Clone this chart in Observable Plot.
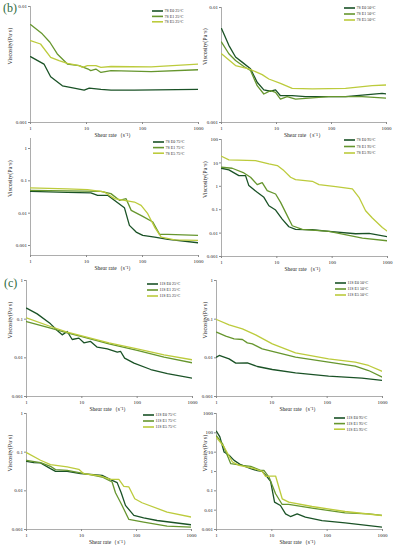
<!DOCTYPE html>
<html>
<head>
<meta charset="utf-8">
<script src="https://cdn.jsdelivr.net/npm/d3@7"></script>
<script src="https://cdn.jsdelivr.net/npm/@observablehq/plot@0.6"></script>
<style>
  html, body { margin: 0; padding: 0; background: #fff; }
  #fig { position: relative; width: 395px; height: 550px; overflow: hidden; font-family: "Liberation Serif", "Times New Roman", serif; }
  .panel { position: absolute; }
  .legend { position: absolute; overflow: visible; }
  .tag { position: absolute; font-size: 12px; color: #2d6a3c; font-family: "Liberation Serif", serif; }
</style>
</head>
<body>
<div id="fig"></div>
<script>
// ---------- data: [shear rate (1/s), viscosity (Pa·s)] ----------
// 7S, 25 °C
const s7_25_E0 = [[1,0.0037],[1.74,0.00319],[2.29,0.00248],[3.71,0.00207],[6.0,0.00198],[9.08,0.0019],[11.2,0.00198],[18.1,0.00193],[27.4,0.0019],[71.7,0.0019],[1000,0.00193]];
const s7_25_E1 = [[1,0.00698],[1.62,0.00581],[2.22,0.00492],[3.01,0.0039],[4.56,0.00319],[7.4,0.00309],[10.7,0.00289],[11.9,0.0028],[14.7,0.00289],[18.1,0.0027],[27.4,0.0028],[143,0.00274],[1000,0.00285]];
const s7_25_E5 = [[1,0.00508],[1.51,0.00475],[2.29,0.00365],[3.23,0.00341],[4.56,0.00323],[7.4,0.00309],[8.5,0.00299],[10.4,0.00309],[14.7,0.00309],[18.1,0.00299],[27.4,0.00304],[143,0.00302],[1000,0.00319]];
// 7S, 50 °C
const s7_50_E0 = [[1,0.00655],[1.36,0.00469],[1.8,0.00371],[2.37,0.00335],[3.37,0.00293],[4.45,0.00224],[5.88,0.00192],[7.8,0.00187],[9.6,0.00192],[11.8,0.00171],[19.3,0.00171],[33.6,0.00168],[180,0.00168],[830,0.00179],[1000,0.00177]];
const s7_50_E1 = [[1,0.00501],[1.36,0.00396],[1.8,0.00346],[2.55,0.00307],[3.37,0.00283],[4.45,0.00209],[5.88,0.00177],[7.8,0.00189],[9.6,0.00183],[11.8,0.0016],[15.6,0.00168],[22.2,0.0016],[89,0.00168],[360,0.00168],[1000,0.00163]];
const s7_50_E5 = [[1,0.00397],[1.8,0.00313],[3.14,0.00293],[5.49,0.00261],[7.25,0.00239],[11.8,0.00219],[19.3,0.00198],[44.6,0.00196],[180,0.00198],[550,0.00209],[1000,0.00212]];
// 7S, 75 °C
const s7_75_E0 = [[1,0.0474],[4.55,0.0442],[11.96,0.0422],[15.8,0.0357],[23.8,0.0357],[31.4,0.025],[47.5,0.0148],[58.4,0.00419],[77,0.0026],[101,0.00205],[165,0.00182],[285,0.00154],[1000,0.00121]];
const s7_75_E1 = [[1,0.0509],[4.55,0.0486],[18.1,0.0475],[27.3,0.0402],[38.7,0.025],[50.9,0.0281],[62.9,0.0122],[101,0.00796],[153,0.00531],[202,0.0022],[285,0.0022],[1000,0.00205]];
const s7_75_E5 = [[1,0.0602],[4.55,0.0561],[10.4,0.0535],[20.8,0.0453],[31.4,0.0281],[47.5,0.025],[71.8,0.0221],[94.5,0.0175],[124,0.00962],[164,0.00371],[216,0.00182],[375,0.0015],[1000,0.00143]];
// 7S, 95 °C
const s7_95_E0 = [[1,5.91],[1.36,5.01],[2.06,2.87],[2.72,2.87],[3.12,1.07],[4.42,0.553],[5.84,0.338],[7.19,0.148],[9.5,0.0968],[12.5,0.0398],[16.5,0.0187],[21.8,0.0144],[43.7,0.0139],[87.6,0.0118],[265,0.00936],[465,0.00966],[1000,0.00697]];
const s7_95_E1 = [[1,6.52],[1.56,5.91],[2.54,3.73],[3.35,2.43],[4.42,1.18],[5.44,1.44],[6.7,0.652],[9.5,0.469],[11.7,0.206],[14.4,0.0769],[19,0.0206],[28.9,0.0144],[87.6,0.0118],[352,0.00611],[1000,0.00469]];
const s7_95_E5 = [[1,19.3],[1.36,13.4],[4.12,12.6],[7.19,9.06],[10.2,7.69],[13.4,4.69],[17.7,2.43],[21.8,1.93],[43.7,1.64],[57.8,1.18],[116,0.968],[232,0.769],[305,0.338],[402,0.0906],[532,0.044],[806,0.0175],[1000,0.0118]];
// 11S, 25 °C
const s11_25_E0 = [[1,0.193],[1.56,0.137],[2.72,0.0757],[3.59,0.0509],[4.42,0.0393],[5.44,0.048],[6.7,0.0298],[8.85,0.0323],[10.9,0.0245],[14.4,0.0265],[19,0.0189],[28.9,0.0171],[43.7,0.014],[50.3,0.0146],[59.3,0.0098],[87.6,0.00727],[176,0.00499],[352,0.00393],[1000,0.00298]];
const s11_25_E1 = [[1,0.087],[2.72,0.0585],[5.44,0.0443],[10,0.0356],[30.9,0.023],[100,0.0155],[306,0.0104],[1000,0.00743]];
const s11_25_E5 = [[1,0.108],[2.72,0.0646],[5.44,0.0461],[10,0.0371],[30.9,0.0244],[100,0.0171],[306,0.012],[1000,0.00887]];
// 11S, 50 °C
const s11_50_E0 = [[1,0.0104],[1.12,0.0115],[1.69,0.00942],[2.23,0.00728],[3.61,0.00742],[5.47,0.00597],[10.2,0.00499],[26.8,0.00409],[106,0.00336],[424,0.00298],[1000,0.00259]];
const s11_50_E1 = [[1,0.0461],[1.47,0.0363],[2.08,0.031],[2.94,0.0298],[3.61,0.0244],[4.44,0.023],[6.71,0.0171],[10.2,0.0146],[26.8,0.0104],[106,0.00773],[321,0.00609],[560,0.0047],[1000,0.00316]];
const s11_50_E5 = [[1,0.098],[1.69,0.0714],[2.94,0.0562],[5.1,0.0393],[10.2,0.023],[26.8,0.0135],[106,0.00942],[321,0.00773],[560,0.00634],[1000,0.00443]];
// 11S, 75 °C
const s11_75_E0 = [[1,0.0581],[1.36,0.0537],[1.8,0.0526],[2.73,0.0375],[3.37,0.032],[5.49,0.032],[9.6,0.0278],[16.7,0.0262],[23.7,0.0252],[36,0.0187],[44.5,0.0163],[52.7,0.00895],[63,0.0042],[89.5,0.00231],[135,0.00201],[237,0.00171],[1000,0.00132]];
const s11_75_E1 = [[1,0.0617],[1.8,0.0537],[2.73,0.0431],[3.37,0.0353],[5.49,0.034],[9.6,0.029],[16.7,0.0252],[23.7,0.0228],[36,0.0169],[41.5,0.00895],[52.7,0.00464],[72.7,0.00182],[135,0.00155],[360,0.00122],[1000,0.00115]];
const s11_75_E5 = [[1,0.0975],[1.8,0.0617],[2.73,0.0476],[5.49,0.0414],[8.93,0.036],[11,0.0278],[22.2,0.0242],[33.7,0.0198],[47.8,0.0198],[58.8,0.013],[72.7,0.0126],[93,0.00625],[126,0.00492],[360,0.00282],[1000,0.00209]];
// 11S, 95 °C
const s11_95_E0 = [[1,121],[1.15,61.5],[1.37,10.2],[1.69,6.87],[2.08,3.78],[2.74,2.25],[4.15,1.4],[5.47,1.1],[6.71,1.02],[8.27,0.516],[9.5,0.308],[11.2,0.026],[14.3,0.0175],[17.7,0.00645],[21.7,0.00469],[28.7,0.00645],[40.4,0.00433],[80.7,0.00291],[211,0.0022],[1000,0.00131]];
const s11_95_E1 = [[1,69.3],[1.28,27.7],[1.81,2.54],[2.94,2.08],[4.15,1.85],[6.27,1.15],[7.2,1.15],[8.87,0.516],[11.7,0.0705],[15.4,0.0197],[20.2,0.0197],[53.3,0.0127],[211,0.00727],[560,0.00645],[1000,0.00528]];
const s11_95_E5 = [[1,56.8],[1.37,18.6],[1.94,3.1],[2.56,2.08],[4.44,1.51],[6.71,1.02],[7.7,0.558],[9.5,0.576],[11.7,0.582],[15.4,0.0387],[20.2,0.026],[53.3,0.0155],[211,0.00853],[1000,0.00528]];

// ---------- labels ----------
const seriesCodes = ["E0", "E1", "E5"];
const seriesColors = ["#1a5226", "#66962e", "#bccb3c"];
const xTitle = "Shear rate（s⁻¹）";
const yTitle = "Viscosity(Pa·s)";
const xTicks = [1, 10, 100, 1000];

// ---------- layout ----------
const panels = [
  {p:"7S",  t:"25°C", data:[s7_25_E0, s7_25_E1, s7_25_E5],   left:0,   top:0,   w:200, h:140, xL:30,  xR:198, yT:6,   yB:122, yDom:[0.001, 0.01], lg:[152, 10.5, 5.4], tag:"(b)"},
  {p:"7S",  t:"50°C", data:[s7_50_E0, s7_50_E1, s7_50_E5],   left:195, top:0,   w:200, h:140, xL:221, xR:386, yT:7,   yB:122, yDom:[0.001, 0.01], lg:[344, 7.5, 6]},
  {p:"7S",  t:"75°C", data:[s7_75_E0, s7_75_E1, s7_75_E5],   left:0,   top:130, w:200, h:140, xL:30,  xR:198, yT:138, yB:255, yDom:[0.00049, 2.04], lg:[153, 142, 5.6]},
  {p:"7S",  t:"95°C", data:[s7_95_E0, s7_95_E1, s7_95_E5],   left:195, top:130, w:200, h:140, xL:221, xR:387, yT:139, yB:256, yDom:[0.001, 100], lg:[344, 140, 6.5]},
  {p:"11S", t:"25°C", data:[s11_25_E0, s11_25_E1, s11_25_E5], left:0,   top:265, w:200, h:145, xL:26,  xR:192, yT:280, yB:396, yDom:[0.001, 1], lg:[147, 284, 6], tag:"(c)"},
  {p:"11S", t:"50°C", data:[s11_50_E0, s11_50_E1, s11_50_E5], left:195, top:265, w:200, h:145, xL:216, xR:382, yT:280, yB:396, yDom:[0.001, 1], lg:[335, 283, 6]},
  {p:"11S", t:"75°C", data:[s11_75_E0, s11_75_E1, s11_75_E5], left:0,   top:405, w:200, h:145, xL:26,  xR:191, yT:413, yB:529, yDom:[0.001, 1], lg:[143, 415, 6]},
  {p:"11S", t:"95°C", data:[s11_95_E0, s11_95_E1, s11_95_E5], left:195, top:405, w:200, h:145, xL:216, xR:382, yT:413, yB:529, yDom:[0.001, 1000], lg:[334, 418, 5.6]}
];

const fig = document.getElementById("fig");
const fmt = d => `${d}`;
const SVGNS = "http://www.w3.org/2000/svg";

panels.forEach(P => {
  const rows = [];
  P.data.forEach((arr, i) => arr.forEach(([x, y]) => rows.push({x, y, i})));
  const lo = Math.ceil(Math.log10(P.yDom[0]) - 1e-9), hi = Math.floor(Math.log10(P.yDom[1]) + 1e-9);
  const yTicks = d3.range(lo, hi + 1).map(k => +("1e" + k));
  const chart = Plot.plot({
    width: P.w, height: P.h,
    marginLeft: P.xL - P.left, marginRight: P.left + P.w - P.xR,
    marginTop: P.yT - P.top, marginBottom: P.top + P.h - P.yB,
    x: {type: "log", domain: [1, 1000]},
    y: {type: "log", domain: P.yDom},
    style: {fontFamily: "Liberation Serif, Times New Roman, serif", background: "transparent", color: "#222", overflow: "visible"},
    marks: [
      Plot.ruleX([1], {stroke: "#8a8a8a", strokeWidth: 0.7}),
      Plot.ruleY([P.yDom[0]], {stroke: "#8a8a8a", strokeWidth: 0.7}),
      Plot.axisX(xTicks, {tickSize: 2, tickPadding: 1.5, fontSize: 5, tickFormat: fmt, label: null, stroke: "#8a8a8a"}),
      Plot.axisY(yTicks, {tickSize: 2, tickPadding: 1.5, fontSize: 5, tickFormat: fmt, label: null, stroke: "#8a8a8a"}),
      ...seriesCodes.map((c, i) => Plot.line(rows.filter(r => r.i === i), {x: "x", y: "y", stroke: seriesColors[i], strokeWidth: 1.3, clip: true})),
      Plot.text([xTitle], {frameAnchor: "bottom", dy: 14, fontSize: 5.5, fill: "#222"}),
      Plot.text([yTitle], {frameAnchor: "left", dx: -(P.xL - P.left) + 10, rotate: -90, fontSize: 6, fill: "#222"})
    ]
  });
  const wrap = document.createElement("div");
  wrap.className = "panel";
  wrap.style.left = P.left + "px";
  wrap.style.top = P.top + "px";
  wrap.appendChild(chart);
  fig.appendChild(wrap);

  // legend (small SVG so the swatches render with an even thickness)
  const lg = document.createElementNS(SVGNS, "svg");
  lg.setAttribute("class", "legend");
  lg.setAttribute("width", 50);
  lg.setAttribute("height", 20);
  lg.style.left = P.lg[0] + "px";
  lg.style.top = (P.lg[1] - 2) + "px";
  seriesCodes.forEach((c, i) => {
    const y = 2 + i * P.lg[2];
    const ln = document.createElementNS(SVGNS, "line");
    ln.setAttribute("x1", 0); ln.setAttribute("x2", 11);
    ln.setAttribute("y1", y); ln.setAttribute("y2", y);
    ln.setAttribute("stroke", seriesColors[i]);
    ln.setAttribute("stroke-width", 1.6);
    lg.appendChild(ln);
    const tx = document.createElementNS(SVGNS, "text");
    tx.setAttribute("x", 12.5); tx.setAttribute("y", y);
    tx.setAttribute("dy", "0.35em");
    tx.setAttribute("font-size", 4);
    tx.setAttribute("fill", "#222");
    tx.setAttribute("font-family", "Liberation Serif, Times New Roman, serif");
    tx.textContent = `${P.p} ${c} ${P.t}`;
    lg.appendChild(tx);
  });
  fig.appendChild(lg);

  if (P.tag) {
    const t = document.createElement("div");
    t.className = "tag";
    t.textContent = P.tag;
    t.style.left = (P.tag === "(b)" ? 3 : 4) + "px";
    t.style.top = (P.tag === "(b)" ? 1 : 276) + "px";
    fig.appendChild(t);
  }
});
</script>
</body>
</html>
